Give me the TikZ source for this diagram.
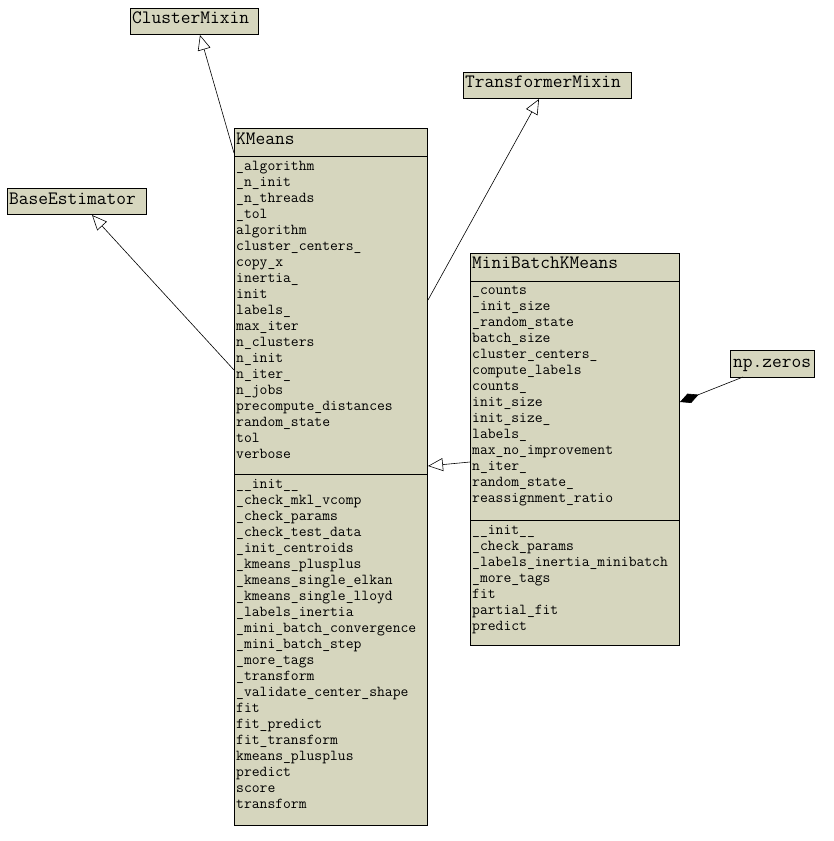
\documentclass[tikz,border=0pt]{standalone}
\usepackage{fontspec}
\usetikzlibrary{arrows.meta}
\definecolor{umlfill}{RGB}{214,214,190}
\tikzset{
  cls/.style={draw, fill=umlfill, line width=0.8pt, inner sep=0pt},
  clsname/.style={anchor=base west, inner sep=0pt, font=\ttfamily\fontsize{18.9}{18.9}\selectfont},
  member/.style={anchor=base west, inner sep=0pt, font=\ttfamily\fontsize{15.2}{15.2}\selectfont},
  inherit/.style={-{Triangle[open, length=15pt, width=13pt, fill=white]}, line width=0.6pt},
  compose/.style={{Diamond[length=20pt, width=10pt]}-, line width=0.6pt}
}
\begin{document}
\begin{tikzpicture}[x=1pt, y=-1pt]
  \useasboundingbox (0,0) rectangle (833,841);
  %% base classes
  \node[cls, minimum width=128, minimum height=26] (clustermixin) at (194,21) {};
  \node[clsname] (clustermixinname) at (132,23.5) {ClusterMixin};
  \node[cls, minimum width=168, minimum height=26] (transformermixin) at (547,85) {};
  \node[clsname] (transformermixinname) at (465,87) {TransformerMixin};
  \node[cls, minimum width=139, minimum height=26] (baseestimator) at (76.5,201) {};
  \node[clsname] (baseestimatorname) at (9,204) {BaseEstimator};
  \node[cls, minimum width=84, minimum height=27] (npzeros) at (772,363.5) {};
  \node[clsname] (npzerosname) at (733,367) {np.zeros};
  %% KMeans
  \node[cls, minimum width=193, minimum height=697] (kmeans) at (330.5,476.5) {};
  \draw[line width=0.8pt] (234,156) -- (427,156);
  \draw[line width=0.8pt] (234,474) -- (427,474);
  \node[clsname] (kmeansname) at (236,144) {KMeans};
  \foreach \txt [count=\i from 0] in {\_algorithm, \_n\_init, \_n\_threads, \_tol,
      algorithm, cluster\_centers\_, copy\_x, inertia\_, init, labels\_, max\_iter,
      n\_clusters, n\_init, n\_iter\_, n\_jobs, precompute\_distances, random\_state,
      tol, verbose}
    \node[member] (kmattr\i) at (236,170+16*\i) {\txt};
  \foreach \txt [count=\i from 0] in {\_\_init\_\_, \_check\_mkl\_vcomp, \_check\_params,
      \_check\_test\_data, \_init\_centroids, \_kmeans\_plusplus, \_kmeans\_single\_elkan,
      \_kmeans\_single\_lloyd, \_labels\_inertia, \_mini\_batch\_convergence,
      \_mini\_batch\_step, \_more\_tags, \_transform, \_validate\_center\_shape, fit,
      fit\_predict, fit\_transform, kmeans\_plusplus, predict, score, transform}
    \node[member] (kmop\i) at (236,488+16*\i) {\txt};
  %% MiniBatchKMeans
  \node[cls, minimum width=209, minimum height=392] (minibatch) at (574.5,449) {};
  \draw[line width=0.8pt] (470,281) -- (679,281);
  \draw[line width=0.8pt] (470,520) -- (679,520);
  \node[clsname] (minibatchname) at (472,268) {MiniBatchKMeans};
  \foreach \txt [count=\i from 0] in {\_counts, \_init\_size, \_random\_state, batch\_size,
      cluster\_centers\_, compute\_labels, counts\_, init\_size, init\_size\_, labels\_,
      max\_no\_improvement, n\_iter\_, random\_state\_, reassignment\_ratio}
    \node[member] (mbattr\i) at (472,294+16*\i) {\txt};
  \foreach \txt [count=\i from 0] in {\_\_init\_\_, \_check\_params,
      \_labels\_inertia\_minibatch, \_more\_tags, fit, partial\_fit, predict}
    \node[member] (mbop\i) at (472,534+16*\i) {\txt};
  %% connectors
  \coordinate (kmtocm) at (234,153);
  \coordinate (cmtip) at (200,35);
  \coordinate (kmtotm) at (428,300);
  \coordinate (tmtip) at (539,99);
  \coordinate (kmtobe) at (234,370);
  \coordinate (betip) at (92,215);
  \coordinate (mbtokm) at (470,462);
  \coordinate (kmtip) at (428,466);
  \coordinate (mbdiamond) at (680,402);
  \coordinate (npfoot) at (743,377);
  \draw[inherit] (kmtocm) -- (cmtip);
  \draw[inherit] (kmtotm) -- (tmtip);
  \draw[inherit] (kmtobe) -- (betip);
  \draw[inherit] (mbtokm) -- (kmtip);
  \draw[compose] (mbdiamond) -- (npfoot);
\end{tikzpicture}
\end{document}
